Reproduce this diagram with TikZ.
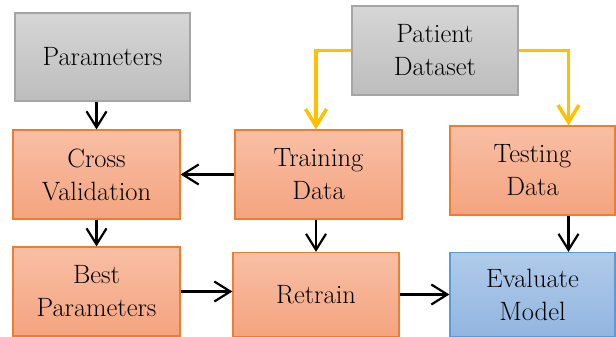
\documentclass[tikz,border=0pt]{standalone}
\usepackage{fontspec}
\usetikzlibrary{arrows.meta}
\definecolor{orgA}{HTML}{F8BFA5}
\definecolor{orgB}{HTML}{F4A47F}
\definecolor{orgD}{HTML}{ED7D31}
\definecolor{gryA}{HTML}{D6D6D6}
\definecolor{gryB}{HTML}{BDBDBD}
\definecolor{gryD}{HTML}{A5A5A5}
\definecolor{bluA}{HTML}{B0CBEA}
\definecolor{bluB}{HTML}{92B5E0}
\definecolor{bluD}{HTML}{5B9BD5}
\definecolor{gold}{HTML}{FFC000}
\tikzset{
  box/.style={rectangle, inner sep=0pt, align=center, line width=1.2pt,
    font=\rmfamily\fontsize{26.5}{33}\selectfont},
  graybox/.style={box, draw=gryD, top color=gryA, bottom color=gryB},
  orangebox/.style={box, draw=orgD, top color=orgA, bottom color=orgB},
  bluebox/.style={box, draw=bluD, top color=bluA, bottom color=bluB},
  arr/.style={draw=black, line width=2.2pt, -{Straight Barb[length=16pt,width=20pt,line width=2.2pt]}},
  oarr/.style={draw=gold, line width=3.5pt, -{Straight Barb[length=17pt,width=21pt,line width=3.5pt]}},
}
\begin{document}
\begin{tikzpicture}[x=1pt,y=-1pt]
\useasboundingbox[fill=white] (0,0) rectangle (616,337);
\node[graybox, minimum width=175pt, minimum height=88pt] (par) at (102.5,57) {Parameters};
\node[graybox, minimum width=166pt, minimum height=89pt] (pd) at (435,50.5) {Patient\\Dataset};
\node[orangebox, minimum width=167pt, minimum height=89pt] (cv) at (96.5,174.5) {Cross\\Validation};
\node[orangebox, minimum width=167pt, minimum height=89pt] (tr) at (318.5,174.5) {Training\\Data};
\node[orangebox, minimum width=165pt, minimum height=89pt] (ts) at (532.5,170.5) {Testing\\Data};
\node[orangebox, minimum width=167pt, minimum height=89pt] (bp) at (96.5,291.5) {Best\\Parameters};
\node[orangebox, minimum width=166pt, minimum height=84pt] (rt) at (316,294.5) {Retrain};
\node[bluebox, minimum width=165pt, minimum height=84pt] (ev) at (532.5,294.5) {Evaluate\\Model};
\draw[arr] (cv.north |- par.south) -- (cv.north);
\draw[arr] (tr.west) -- (cv.east);
\draw[arr] (cv.south) -- (bp.north);
\draw[arr] (rt.north |- tr.south) -- (rt.north);
\draw[arr] (bp.east) -- (bp.east -| rt.west);
\draw[arr] (rt.east) -- (rt.east -| ev.west);
\draw[arr] ([xshift=36pt]ts.south) -- ([xshift=36pt]ev.north);
\draw[oarr] (pd.west) -| (rt.north |- tr.north);
\draw[oarr] (pd.east) -| ([xshift=36pt]ts.north);
\end{tikzpicture}
\end{document}
